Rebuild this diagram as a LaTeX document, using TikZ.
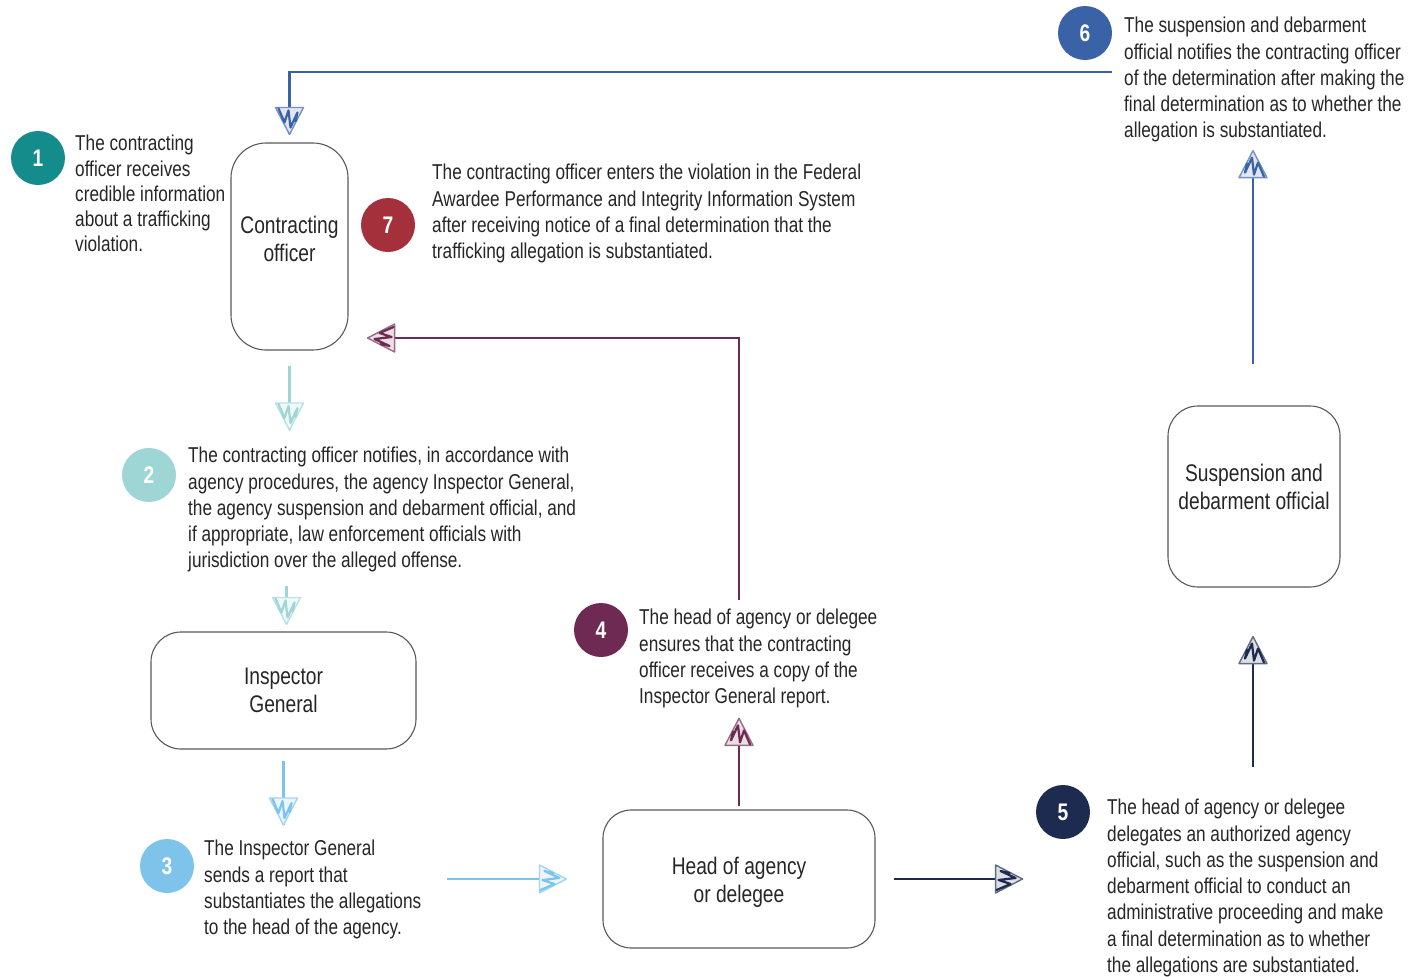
\documentclass[tikz,border=0pt]{standalone}
\usepackage{fontspec}
\setmainfont{Liberation Sans}[FakeStretch=0.80]
\usetikzlibrary{calc,decorations.markings}
\definecolor{cA}{HTML}{148C8C}
\definecolor{cB}{HTML}{9ED6D6}
\definecolor{cC}{HTML}{7DC3EA}
\definecolor{cD}{HTML}{6E2A52}
\definecolor{cE}{HTML}{1C2B4F}
\definecolor{cF}{HTML}{3A62A6}
\definecolor{cG}{HTML}{A3303A}
\newcommand\skhead[1]{%
  \draw[#1!70!white, fill=#1!15!white, line width=1.4pt, line join=round] (0,0) -- (-27,14) -- (-27,-14) -- cycle;
  \draw[#1, line width=2.2pt, line join=round, line cap=round] (-26,11) -- (-12,5) -- (-24,1) -- (-7,-1) -- (-22,-8) -- (-13,-6);
}
\tikzset{
  conn/.style={line width=2.2pt, draw=#1, postaction={decorate, decoration={markings, mark=at position 1 with {\skhead{#1}}}}},
  badge/.style={circle, fill=#1, minimum size=54pt, inner sep=0pt, text=white, font=\fontsize{24}{24}\selectfont\bfseries},
  box/.style={draw=black!65, line width=1.1pt, inner sep=0pt},
  boxtext/.style={align=center, inner sep=0pt, font=\fontsize{24}{28}\selectfont, text=black!85},
  desc/.style={anchor=north west, inner sep=0pt, align=left, font=\fontsize{21.5}{26.3}\selectfont, text=black!85},
}
\begin{document}
\begin{tikzpicture}[x=1pt,y=-1pt]
\useasboundingbox[fill=white] (0,0) rectangle (1416,977);

% boxes
\node[box, rounded corners=35pt, minimum width=117pt, minimum height=207pt] (co) at (289.5,246.5) {};
\node[box, rounded corners=30pt, minimum width=265pt, minimum height=117pt] (ig) at (283.5,690.5) {};
\node[box, rounded corners=28pt, minimum width=272pt, minimum height=138pt] (head) at (739,879) {};
\node[box, rounded corners=30pt, minimum width=172pt, minimum height=181pt] (sdo) at (1254,496.5) {};
\node[boxtext] (coT) at ($(co)+(0,-8)$) {Contracting\\officer};
\node[boxtext] (igT) at ($(ig)+(0,0)$) {Inspector\\General};
\node[boxtext] (headT) at ($(head)+(0,3)$) {Head of agency\\or delegee};
\node[boxtext] (sdoT) at ($(sdo)+(0,-10)$) {Suspension and\\debarment official};

% badges
\node[badge=cA] (b1) at (38,158) {1};
\node[badge=cB] (b2) at (149,475) {2};
\node[badge=cC] (b3) at (167,866) {3};
\node[badge=cD] (b4) at (601,630) {4};
\node[badge=cE] (b5) at (1063,812) {5};
\node[badge=cF] (b6) at (1085,33) {6};
\node[badge=cG] (b7) at (388,225) {7};

% descriptions
\node[desc, font=\fontsize{21.5}{25.3}\selectfont] (t1) at (75,135) {The contracting\\officer receives\\credible information\\about a trafficking\\violation.};
\node[desc] (t2) at (188,447) {The contracting officer notifies, in accordance with\\agency procedures, the agency Inspector General,\\the agency suspension and debarment official, and\\if appropriate, law enforcement officials with\\jurisdiction over the alleged offense.};
\node[desc] (t3) at (204,840) {The Inspector General\\sends a report that\\substantiates the allegations\\to the head of the agency.};
\node[desc] (t4) at (639,609) {The head of agency or delegee\\ensures that the contracting\\officer receives a copy of the\\Inspector General report.};
\node[desc] (t5) at (1107,799) {The head of agency or delegee\\delegates an authorized agency\\official, such as the suspension and\\debarment official to conduct an\\administrative proceeding and make\\a final determination as to whether\\the allegations are substantiated.};
\node[desc] (t6) at (1124,17) {The suspension and debarment\\official notifies the contracting officer\\of the determination after making the\\final determination as to whether the\\allegation is substantiated.};
\node[desc] (t7) at (432,164) {The contracting officer enters the violation in the Federal\\Awardee Performance and Integrity Information System\\after receiving notice of a final determination that the\\trafficking allegation is substantiated.};

% connectors
\draw[conn=cB] ($(co.south)+(0,15)$) -- ($(co.south |- t2.north)+(0,-17)$);
\draw[conn=cB] ($(t2.south -| ig.north)+(3,13)$) -- ($(ig.north)+(3,-7)$);
\draw[conn=cC] ($(ig.south)+(0,11)$) -- ($(ig.south |- t3.north)+(0,-15)$);
\draw[conn=cC] ($(head.west)+(-155,0)$) -- ($(head.west)+(-36,0)$);
\draw[conn=cD] ($(head.north)+(0,-3)$) -- ($(head.north |- t4.south)+(0,10)$);
\draw[conn=cD] ($(head.north |- t4.north)+(0,-9)$) |- ($(co.east)+(19,91.5)$);
\draw[conn=cE] ($(head.east)+(18,0)$) -- ($(head.east)+(147,0)$);
\draw[conn=cE] ($(sdo.south |- t5.north)+(-1,-32)$) -- ($(sdo.south)+(-1,49)$);
\draw[conn=cF] ($(sdo.north)+(-1,-41)$) -- ($(sdo.north |- t6.south)+(-1,8)$);
\draw[conn=cF] ($(t6.north west)+(-12,55)$) -| ($(co.north)+(0,-8)$);
\end{tikzpicture}
\end{document}
